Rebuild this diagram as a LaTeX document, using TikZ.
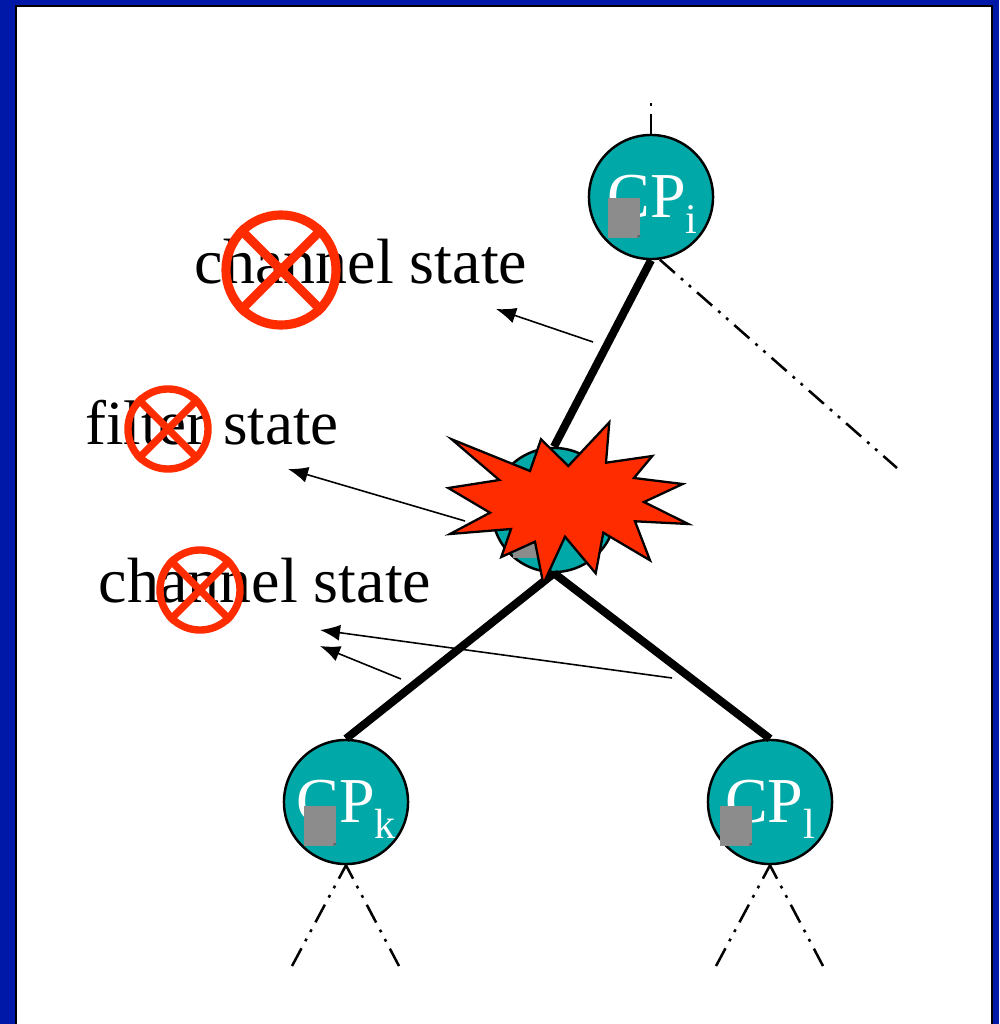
\documentclass[tikz,border=0pt]{standalone}
\usepackage{fontspec}
\setmainfont{Liberation Serif}
\usepackage{xcolor}
\usetikzlibrary{
	arrows.meta,
	calc,
	positioning
}
\definecolor{FrameBlue}{RGB}{0, 24, 168}
\definecolor{NodeTeal}{RGB}{0, 168, 168}
\definecolor{BlastRed}{RGB}{255, 44, 0}
\definecolor{NoteGray}{RGB}{140, 140, 140}
\newcommand{\cpname}[1]{CP\smash{\raisebox{-0.16cm}{\fontsize{12}{14}\selectfont #1}}}
\tikzset{
	cpnode/.style={circle, draw=black, line width=0.7pt, fill=NodeTeal, text=white, inner sep=0pt, minimum size=1.24cm, font=\fontsize{18.2}{20}\selectfont},
	notebox/.style={fill=NoteGray, inner sep=0pt, minimum width=0.32cm, minimum height=0.39cm},
	noway/.style={circle, draw=BlastRed, inner sep=0pt},
	crossline/.style={BlastRed},
	link/.style={line width=2.3pt},
	farlink/.style={line width=0.72pt, dash pattern=on 5.7pt off 2.3pt on 0.8pt off 2.2pt on 0.8pt off 2.3pt},
	msg/.style={line width=0.45pt, -{Latex[length=0.2cm, width=0.16cm]}},
	caption/.style={inner sep=0pt, font=\fontsize{18.2}{20}\selectfont}
}

\begin{document}
\begin{tikzpicture}[x=0.01cm, y=-0.01cm]
		\useasboundingbox (0,0) rectangle (999,1024);
		\fill[FrameBlue] (0,0) rectangle (999,1024);
		\draw[line width=0.65pt, fill=white] (16,6) rectangle (992,1030);
		% free ends
		\coordinate (topEnd) at (651,103);
		\coordinate (farEnd) at (897,468);
		\coordinate (kLeft) at (292,966);
		\coordinate (kRight) at (399,966);
		\coordinate (lLeft) at (716,966);
		\coordinate (lRight) at (823,966);
		\coordinate (m1a) at (593,342);
		\coordinate (m1b) at (496,309);
		\coordinate (m2a) at (465,521);
		\coordinate (m2b) at (288,469);
		\coordinate (m3a) at (401,679);
		\coordinate (m3b) at (320,646);
		\coordinate (m4a) at (672,678);
		\coordinate (m4b) at (320,630);
		% processes
		\node[cpnode] (cpi) at (651,197) {\hspace{0.03cm}\cpname{i}};
		\node[cpnode] (cpm) at (554,510) {};
		\node[cpnode] (cpk) at (346,802) {\cpname{k}};
		\node[cpnode] (cpl) at (770,802) {\cpname{l}};
		\draw[link] (cpi.south) -- (cpm.north);
		\draw[link] (cpm.south) -- (cpk.north);
		\draw[link] (cpm.south) -- (cpl.north);
		\draw[farlink] (cpi.north) -- (topEnd);
		\draw[farlink] (cpi.-82) -- (farEnd);
		\foreach \a/\b in {cpk/kLeft, cpk/kRight, cpl/lLeft, cpl/lRight}
		\draw[farlink, dash phase=1.4pt] (\a.south) -- (\b);
		% recorded state
		\foreach \n/\x/\y in {ni/624/218, nm/529/538, nk/320/826, nl/736/826}{
			\node[notebox] (\n) at (\x,\y) {};
			\fill[NodeTeal] (\n.south east) -- ++(-3,0) -- ++(3,-3) -- cycle;
			\fill[NoteGray!70!black] (\n.south east) ++(-3,0) -- ++(0,-3) -- ++(3,0) -- cycle;
		}
		% messages
		\draw[msg] (m1a) -- (m1b);
		\draw[msg] (m2a) -- (m2b);
		\draw[msg] (m3a) -- (m3b);
		\draw[msg] (m4a) -- (m4b);
		% labels
		\node[caption] (chanTop) at (361,262) {channel state};
		\node[caption, font=\fontsize{17.9}{20}\selectfont] (filt) at (212,423) {filter state};
		\node[caption] (chanLow) at (265,581) {channel state};
		% crossed out
		\foreach \n/\x/\y/\s/\w in {xa/281/270/1.1cm/2.6pt, xb/168/429/0.8cm/2.1pt, xc/200/590/0.8cm/2.1pt}{
			\node[noway, line width=\w, minimum size=\s] (\n) at (\x,\y) {};
			\draw[crossline, line width=\w] (\n.45) -- (\n.225);
			\draw[crossline, line width=\w] (\n.135) -- (\n.-45);
		}
		% failure
		\draw[line width=0.65pt, fill=BlastRed, line join=miter] (451.7,439.3) -- (530,471) -- (541,439.3) -- (568.3,466) -- (609.3,422.3) -- (606,462.7) -- (652.3,456) -- (634,478) -- (682.7,484) -- (644,502) -- (688.3,524) -- (635,521.3) -- (650,560.3) -- (603.3,532.7) -- (595.7,573.3) -- (565,536.7) -- (543.3,584) -- (535,541.7) -- (501.3,557) -- (511,529) -- (450,534) -- (490,512.7) -- (448.3,488) -- (499.3,480) -- cycle;
	\end{tikzpicture}
\end{document}
